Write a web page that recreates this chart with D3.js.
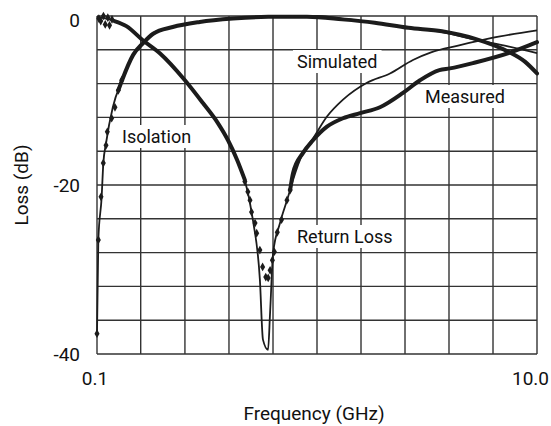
<!DOCTYPE html>
<html>
<head>
<meta charset="utf-8">
<script src="https://cdn.jsdelivr.net/npm/d3@7"></script>
<style>
  body { margin: 0; background: #fff; }
  text { font-family: Roboto, "Liberation Sans", sans-serif; fill: #111; }
</style>
</head>
<body>
<div id="chart"></div>
<script>
// isolation, simulated (thin line)
var isoSimF  = [0.1, 0.1014, 0.105, 0.1068, 0.11, 0.118, 0.13, 0.146, 0.162, 0.18, 0.221, 0.293, 0.415, 0.6, 1.0, 1.3, 1.83, 2.6, 3.7, 5.24, 7.38, 10];
var isoSimDb = [-37.6, -26.5, -21.4, -17.5, -15.0, -10.8, -7.6, -4.6, -3.2, -2.0, -1.3, -0.7, -0.3, -0.1, 0, -0.3, -0.8, -1.4, -1.9, -2.8, -3.6, -4.4];

// isolation, measured (dense band + loose markers at the low end)
var isoMeasF  = [0.125, 0.13, 0.146, 0.162, 0.18, 0.221, 0.293, 0.415, 0.6, 0.9, 1.3, 1.83, 2.6, 3.7, 5.24, 7.38, 8.81, 10];
var isoMeasDb = [-8.8, -7.6, -4.6, -3.2, -2.1, -1.3, -0.7, -0.3, -0.1, -0.1, -0.4, -0.8, -1.4, -1.8, -2.7, -4.2, -5.4, -6.8];
var isoDotF  = [0.1, 0.1014, 0.1043, 0.1068, 0.1099, 0.1114, 0.1166, 0.1207, 0.125, 0.1295];
var isoDotDb = [-37.6, -26.5, -21.4, -17.4, -15.3, -13.7, -12.1, -10.8, -8.8, -7.6];

// return loss, simulated (thin line)
var rlSimF  = [0.1, 0.11, 0.12, 0.136, 0.162, 0.193, 0.251, 0.303, 0.355, 0.394, 0.433, 0.47, 0.511, 0.55, 0.568, 0.599, 0.612, 0.632, 0.679, 0.739, 0.778, 0.864, 0.959, 1.11, 1.313, 1.687, 2.146, 2.73, 3.3, 4.38, 6.24, 10];
var rlSimDb = [-0.1, -0.3, -0.6, -1.2, -2.9, -4.4, -7.6, -10.3, -12.7, -14.7, -17.0, -19.4, -24.1, -31.2, -38.3, -39.5, -35.1, -28.0, -24.5, -21.4, -19.4, -16.2, -14.5, -11.9, -9.9, -7.9, -6.8, -5.2, -4.3, -3.5, -2.6, -1.7];

// return loss, measured
var rlMeasAF  = [0.12, 0.136, 0.162, 0.193, 0.251, 0.303, 0.355, 0.394, 0.433, 0.47];
var rlMeasADb = [-0.6, -1.2, -2.9, -4.4, -7.6, -10.3, -12.7, -14.7, -17.0, -19.4];
var rlMeasBF  = [0.755, 0.778, 0.864, 0.959, 1.11, 1.313, 1.569, 1.933, 2.459, 2.94, 3.6, 4.02, 5.24, 7.6, 10];
var rlMeasBDb = [-20.6, -18.6, -16.2, -14.7, -13.1, -12.1, -11.5, -10.8, -9.1, -7.6, -6.4, -6.2, -5.5, -4.3, -3.1];
var rlDotF  = [0.102, 0.104, 0.107, 0.109, 0.112, 0.114, 0.117, 0.47, 0.485, 0.496, 0.504, 0.523, 0.532, 0.55, 0.566, 0.585, 0.6, 0.612, 0.627, 0.64, 0.66, 0.69, 0.73, 0.755];
var rlDotDb = [-0.3, -0.6, 0, -1.0, -0.2, -1.1, -0.4, -19.6, -20.8, -21.8, -23.2, -24.5, -25.7, -27.7, -29.7, -30.9, -31.0, -30.1, -28.9, -27.9, -25.6, -24.1, -21.8, -20.6];

var xTicks = [0.1, 0.158, 0.251, 0.398, 0.631, 1, 1.585, 2.512, 3.981, 6.31, 10];
var xLabels = {"0.1": "0.1", "10": "10.0"};
var yTicks = [-40, -36, -32, -28, -24, -20, -16, -12, -8, -4, 0];
var yLabels = {"0": "0", "-20": "-20", "-40": "-40"};

var notes = [
  {text: "Simulated", x: 297, y: 68},
  {text: "Measured", x: 425, y: 103},
  {text: "Isolation", x: 122, y: 143},
  {text: "Return Loss", x: 297, y: 243}
];

var width = 551, height = 426;
var pLeft = 97, pRight = 537, pTop = 16, pBottom = 354;

var svg = d3.select("#chart").append("svg")
    .attr("width", width)
    .attr("height", height);

var x = d3.scaleLog().domain([0.1, 10]).range([pLeft, pRight]);
var y = d3.scaleLinear().domain([-40, 0]).range([pBottom, pTop]);

function pts(f, db) { return f.map(function(v, i) { return [v, db[i]]; }); }

// grid
var grid = svg.append("g").attr("stroke", "#333").attr("stroke-width", 1.4);
grid.selectAll(".vx").data(xTicks).enter().append("line")
    .attr("x1", d => x(d)).attr("x2", d => x(d))
    .attr("y1", pTop).attr("y2", pBottom);
grid.selectAll(".hy").data(yTicks).enter().append("line")
    .attr("x1", pLeft).attr("x2", pRight)
    .attr("y1", d => y(d)).attr("y2", d => y(d));

// tick labels (the top one sits a bit lower, as in the original)
svg.selectAll(".ylab").data(yTicks.filter(d => yLabels[d] !== undefined)).enter().append("text")
    .attr("x", 80).attr("y", d => Math.max(y(d), 20)).attr("dy", "0.36em")
    .attr("text-anchor", "end").style("font-size", "19px")
    .text(d => yLabels[d]);
svg.selectAll(".xlab").data(xTicks.filter(d => xLabels[d] !== undefined)).enter().append("text")
    .attr("x", d => d == 10 ? 549 : x(d) - 2).attr("y", 385)
    .attr("text-anchor", d => d == 10 ? "end" : "middle").style("font-size", "19px")
    .text(d => xLabels[d]);

svg.append("text").attr("x", 314).attr("y", 420).attr("text-anchor", "middle")
    .style("font-size", "19px").text("Frequency (GHz)");
svg.append("text").attr("transform", "translate(28,185) rotate(-90)").attr("text-anchor", "middle")
    .style("font-size", "19px").text("Loss (dB)");

// label boxes hide the grid behind them
var lab = svg.append("g").selectAll("g").data(notes).enter().append("g");
lab.append("text").attr("x", d => d.x).attr("y", d => d.y)
    .style("font-size", "18px").text(d => d.text);
lab.each(function() {
  var g = d3.select(this), b = g.select("text").node().getBBox();
  g.insert("rect", "text").attr("x", b.x - 4).attr("y", b.y - 1)
    .attr("width", b.width + 8).attr("height", b.height + 2).attr("fill", "#fff");
});

var line = d3.line().x(d => x(d[0])).y(d => y(d[1])).curve(d3.curveMonotoneX);

// measured bands
[[isoMeasF, isoMeasDb], [rlMeasAF, rlMeasADb], [rlMeasBF, rlMeasBDb]].forEach(function(s) {
  svg.append("path").datum(pts(s[0], s[1]))
    .attr("d", line).attr("fill", "none")
    .attr("stroke", "#1c1c1c").attr("stroke-width", 4).attr("stroke-linecap", "round");
});

// simulated lines
[[isoSimF, isoSimDb], [rlSimF, rlSimDb]].forEach(function(s) {
  svg.append("path").datum(pts(s[0], s[1]))
    .attr("d", line).attr("fill", "none")
    .attr("stroke", "#1c1c1c").attr("stroke-width", 1.8);
});

// measured markers
var diamond = d3.symbol().type(d3.symbolDiamond).size(22);
svg.selectAll(".dot").data(pts(isoDotF, isoDotDb).concat(pts(rlDotF, rlDotDb))).enter().append("path")
    .attr("d", diamond)
    .attr("transform", d => "translate(" + x(d[0]) + "," + y(d[1]) + ")")
    .attr("fill", "#1c1c1c");
</script>
</body>
</html>
